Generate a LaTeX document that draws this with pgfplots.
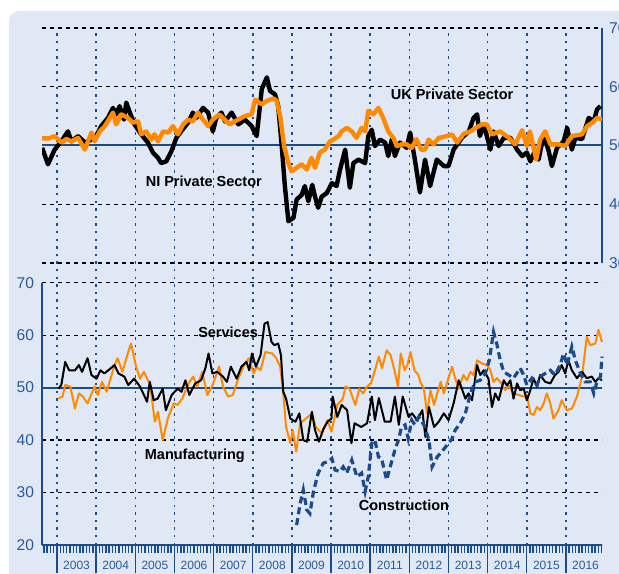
\documentclass[border=0pt]{standalone}
\usepackage{pgfplots}
\pgfplotsset{compat=1.18}
\usepackage{fontspec}
\setmainfont{Liberation Sans}

\definecolor{navy}{HTML}{1A4B8C}
\definecolor{ticktxt}{HTML}{2B5A97}
\definecolor{bg}{HTML}{E0E7F5}
\definecolor{pmiorange}{HTML}{FF8A00}

\pgfplotsset{
  pmi/.style={
    scale only axis, width=280pt,
    xmin=2002.617, xmax=2016.92,
    ymajorgrids,
    grid style={black, line width=0.6pt, dash pattern=on 2pt off 2pt},
    tick label style={font=\fontsize{7.8}{9}\selectfont, text=ticktxt},
    /pgf/number format/assume math mode=true,
    axis line style={navy, line width=1pt},
    ytick style={draw=none},
  },
}
\tikzset{
  yearline/.style={navy, line width=0.8pt, dash pattern=on 1.2pt off 2.6pt},
  lbl/.style={font=\fontsize{7.25}{8}\selectfont\bfseries, inner sep=0pt},
}

\begin{document}
\begin{tikzpicture}
\fill[bg, rounded corners=5pt] (4.5pt,-20pt) rectangle (340pt,281pt);

% ---- lower panel: sectors ----------------------------------------------
\begin{axis}[pmi, at={(21pt,14pt)}, anchor=south west, height=131.15pt,
  ymin=20, ymax=70, ytick={20,30,40,50,60,70},
  axis x line*=bottom, axis y line*=left, clip=false,
  tick align=outside,
  % y labels sit just left of the axis, not pushed out by the long x ticks
  yticklabel style={xshift=13.5pt},
  xtick={2003,2004,...,2016}, xticklabels={},
  major tick length=14pt,
  minor xtick={2002.6667,2002.75,...,2016.92},
  minor tick length=4pt,
  xtick style={navy, line width=0.7pt},
  extra x ticks={2003.5,2004.5,2005.5,2006.5,2007.5,2008.5,2009.5,2010.5,
                 2011.5,2012.5,2013.5,2014.5,2015.5,2016.5},
  extra x tick labels={2003,2004,2005,2006,2007,2008,2009,2010,
                       2011,2012,2013,2014,2015,2016},
  extra x tick style={major tick length=0pt,
    xticklabel style={anchor=center, yshift=-10pt,
                      font=\fontsize{6}{7}\selectfont, text=ticktxt}},
]
\pgfplotsinvokeforeach{2003,2004,...,2016}{
  \draw[yearline] (axis cs:#1,20) -- (axis cs:#1,118);
}
\draw[navy, line width=1pt] (axis cs:2002.617,50) -- (axis cs:2016.92,50);

% manufacturing
\addplot[pmiorange, line width=1pt, line join=round] coordinates {
(2003.04,47.9) (2003.14,48.3) (2003.21,50.5) (2003.34,50.2) (2003.46,46) (2003.56,48.9)
(2003.66,48.3) (2003.78,47) (2003.96,50.2) (2004.04,48.6) (2004.15,51.1) (2004.27,49.2)
(2004.47,54.3) (2004.55,55.6) (2004.67,53) (2004.82,56.8) (2004.89,58.4) (2005.02,54)
(2005.12,51.7) (2005.22,53) (2005.38,50.5) (2005.5,43.5) (2005.58,45.4) (2005.7,40)
(2005.83,44.1) (2005.98,47) (2006.08,46.7) (2006.2,47.9) (2006.36,50.8) (2006.48,52.1)
(2006.58,50.2) (2006.71,53) (2006.84,48.6) (2006.99,50.8) (2007.14,54) (2007.24,50.2)
(2007.37,48.3) (2007.49,48.6) (2007.65,52.1) (2007.8,54.6) (2007.9,55.6) (2008.02,52.7)
(2008.1,54) (2008.2,53.3) (2008.32,56.8) (2008.5,56.5) (2008.6,55.6) (2008.7,54)
(2008.78,48.9) (2008.85,42.5) (2008.96,39.4) (2009.02,41.9) (2009.11,37.8) (2009.21,43.2)
(2009.36,44.1) (2009.51,45.1) (2009.61,42.5) (2009.76,41.3) (2009.91,43.8) (2010.01,41.6)
(2010.16,46.7) (2010.3,47.9) (2010.37,50.2) (2010.47,49.8) (2010.62,46.7) (2010.72,49.8)
(2010.82,48.9) (2010.92,50.2) (2011.02,50.8) (2011.12,53.3) (2011.22,55.9) (2011.3,53.7)
(2011.42,57.1) (2011.52,56.2) (2011.62,53.3) (2011.71,50.2) (2011.78,56.5) (2011.88,53.3)
(2011.95,54.3) (2012.03,56.8) (2012.13,53.3) (2012.23,52.4) (2012.28,51.1) (2012.37,49.8)
(2012.45,45.1) (2012.54,49.5) (2012.63,46.7) (2012.71,48.9) (2012.8,51.1) (2012.88,48.9)
(2012.97,51.1) (2013.09,54) (2013.17,51.8) (2013.26,49.8) (2013.38,52.4) (2013.47,51.4)
(2013.56,53) (2013.64,52.4) (2013.73,55.2) (2013.85,54.6) (2013.98,54.3) (2014.07,53.3)
(2014.15,51.1) (2014.24,51.8) (2014.32,51.1) (2014.45,49.5) (2014.54,50.4) (2014.66,48.9)
(2014.79,48.6) (2014.92,48.3) (2015.0,48.6) (2015.09,45.1) (2015.17,44.8) (2015.26,46.3)
(2015.34,45.7) (2015.43,47) (2015.51,48.9) (2015.6,47) (2015.68,44.1) (2015.81,45.7)
(2015.89,47.6) (2016.02,45.7) (2016.15,46) (2016.28,48.3) (2016.41,52.1) (2016.53,59.7)
(2016.62,58.1) (2016.75,58.4) (2016.83,61) (2016.92,58.7)
};

% services
\addplot[black, line width=1pt, line join=round] coordinates {
(2003.04,49.8) (2003.11,50.5) (2003.21,54.9) (2003.31,53.3) (2003.46,53.3) (2003.56,54.3)
(2003.64,53) (2003.78,55.6) (2003.88,52.4) (2004.01,51.7) (2004.11,53.3) (2004.21,52.7)
(2004.31,53.3) (2004.47,54.3) (2004.57,52.7) (2004.72,52.1) (2004.82,50.5) (2004.97,51.7)
(2005.12,50.2) (2005.22,48.6) (2005.3,47.3) (2005.37,51.1) (2005.47,47.6) (2005.57,47.9)
(2005.7,49.8) (2005.78,45.7) (2005.93,48.6) (2006.08,49.8) (2006.18,49.2) (2006.28,51.4)
(2006.38,48.6) (2006.53,50.8) (2006.68,51.4) (2006.79,53.7) (2006.87,56.5) (2006.97,52.7)
(2007.09,53) (2007.24,52.1) (2007.34,51.1) (2007.44,54) (2007.59,51.7) (2007.71,54)
(2007.84,54.9) (2007.91,53.3) (2007.98,56.5) (2008.08,54) (2008.2,56.2) (2008.3,62.2)
(2008.38,62.5) (2008.48,58.7) (2008.55,58.1) (2008.65,58.4) (2008.72,56.2) (2008.78,49.2)
(2008.85,47.9) (2008.96,44.1) (2009.09,43.5) (2009.19,45.1) (2009.29,40) (2009.39,39.7)
(2009.51,45.4) (2009.59,41.9) (2009.69,39.7) (2009.81,42.2) (2009.91,43.5) (2010.01,44.1)
(2010.04,48.3) (2010.16,44.4) (2010.27,46.7) (2010.41,45.7) (2010.52,39.4) (2010.6,43.2)
(2010.77,42.5) (2010.92,43.2) (2011.04,48.3) (2011.12,43.8) (2011.22,48) (2011.37,43.5)
(2011.52,43.5) (2011.63,48.3) (2011.73,42.9) (2011.83,48.3) (2011.98,44.4) (2012.07,45.1)
(2012.2,43.8) (2012.33,45.7) (2012.41,40.6) (2012.5,46.3) (2012.63,42.5) (2012.75,43.5)
(2012.88,45.1) (2013.0,43.8) (2013.13,47) (2013.26,51.4) (2013.34,49.8) (2013.43,47.9)
(2013.51,48.9) (2013.6,47.6) (2013.73,54.3) (2013.81,52.4) (2013.9,53.3) (2014.02,51.7)
(2014.11,46.3) (2014.19,48.9) (2014.28,47.6) (2014.41,51.4) (2014.49,50.4) (2014.58,51.4)
(2014.66,47.9) (2014.75,50.8) (2014.83,49.5) (2014.92,49.8) (2015.0,47.6) (2015.09,49.5)
(2015.17,51.8) (2015.26,50.1) (2015.34,52.4) (2015.47,51.1) (2015.6,50.8) (2015.72,52.4)
(2015.81,53) (2015.89,54.3) (2015.98,52.7) (2016.06,55.2) (2016.15,53.3) (2016.28,51.8)
(2016.41,53) (2016.53,51.8) (2016.66,52.1) (2016.75,51.1) (2016.83,51.8) (2016.92,51.4)
};

% construction
\addplot[navy, line width=1.6pt, dash pattern=on 3.5pt off 2pt] coordinates {
(2009.12,23.8) (2009.21,27.9) (2009.29,30.5) (2009.38,26.7) (2009.46,26) (2009.55,30.2)
(2009.67,33.7) (2009.8,35.6) (2009.93,35.9) (2010.02,36.5) (2010.1,34.3) (2010.23,34)
(2010.31,34.9) (2010.4,33.7) (2010.53,36.2) (2010.66,33) (2010.78,33.7) (2010.87,30.2)
(2010.95,33) (2011.04,39.4) (2011.12,40) (2011.21,36.8) (2011.29,36.5) (2011.42,32.4)
(2011.51,34.9) (2011.63,38.1) (2011.72,40) (2011.8,42.5) (2011.89,42.9) (2011.97,40.3)
(2012.06,43.8) (2012.14,42.9) (2012.24,44.4) (2012.37,42.9) (2012.5,40) (2012.58,34.9)
(2012.71,36.8) (2012.83,37.8) (2013.0,39.4) (2013.09,40.3) (2013.17,41.9) (2013.3,43.2)
(2013.43,45.1) (2013.56,48.9) (2013.68,51.1) (2013.81,51.4) (2013.94,52.7) (2014.04,55.2)
(2014.15,60.6) (2014.24,58.1) (2014.32,55.2) (2014.41,53) (2014.54,52.4) (2014.66,51.8)
(2014.83,53.7) (2014.92,52.4) (2015.0,50.5) (2015.13,51.8) (2015.26,50.5) (2015.34,52.1)
(2015.47,52.7) (2015.6,53.3) (2015.72,52.4) (2015.85,54.3) (2015.94,56.5) (2016.03,54.3)
(2016.15,57.8) (2016.24,55.2) (2016.37,52.7) (2016.49,51.1) (2016.62,51.1) (2016.71,48.9)
(2016.79,51.1) (2016.88,52.1) (2016.92,55.9)
};

\node[lbl] at (axis cs:2007.37,60.6) {Services};
\node[lbl] at (axis cs:2006.52,36.95) {Manufacturing};
\node[lbl] at (axis cs:2011.86,27.6) {Construction};
\end{axis}

% ---- upper panel: private sector ---------------------------------------
\begin{axis}[pmi, at={(21pt,155pt)}, anchor=south west, height=117.5pt,
  ymin=30, ymax=70, ytick={30,40,50,60,70},
  axis y line*=right, axis x line=none, xtick=\empty,
]
\draw[navy, line width=1pt] (axis cs:2002.617,50) -- (axis cs:2016.92,50);

% NI private sector
\addplot[black, line width=2.2pt, line join=round] coordinates {
(2002.62,49.6) (2002.77,46.8) (2002.94,49.3) (2003.11,50.7) (2003.28,52.4) (2003.37,50.7)
(2003.54,51.6) (2003.71,50.5) (2003.88,51) (2004.0,51.6) (2004.13,53.3) (2004.3,54.7)
(2004.43,56.4) (2004.51,55.3) (2004.6,56.7) (2004.71,54.4) (2004.77,57.3) (2004.86,55.6)
(2004.98,53.6) (2005.15,51.9) (2005.32,50.5) (2005.45,48.8) (2005.58,47.9) (2005.66,47)
(2005.79,47.3) (2005.92,49) (2006.05,51.3) (2006.17,52.4) (2006.35,53.9) (2006.47,55.6)
(2006.56,54.7) (2006.73,56.4) (2006.86,55.6) (2006.98,52.4) (2007.07,54.7) (2007.2,55.6)
(2007.29,54.1) (2007.46,55.6) (2007.63,53.6) (2007.8,54.4) (2007.97,53.3) (2008.1,51.6)
(2008.23,59.6) (2008.36,61.6) (2008.44,59.3) (2008.57,58.7) (2008.65,56.7) (2008.74,49.9)
(2008.82,43.1) (2008.91,37.1) (2009.04,37.7) (2009.12,40.8) (2009.25,41.6) (2009.33,43.1)
(2009.42,40.5) (2009.52,43.3) (2009.59,41.3) (2009.67,39.4) (2009.76,41.3) (2009.89,41.9)
(2010.02,43.6) (2010.14,43.1) (2010.23,45.9) (2010.36,49.3) (2010.48,42.8) (2010.57,47)
(2010.7,47.6) (2010.87,47) (2010.95,51.6) (2011.04,52.7) (2011.12,49.9) (2011.25,51)
(2011.38,50.5) (2011.46,48.2) (2011.55,51) (2011.63,48.2) (2011.76,50.5) (2011.93,49.6)
(2012.02,52.2) (2012.14,47.6) (2012.27,42) (2012.4,47.6) (2012.53,43.1) (2012.7,47.6)
(2012.88,46.5) (2013.0,46.5) (2013.13,49.3) (2013.34,51.3) (2013.52,52.4) (2013.64,54.7)
(2013.73,55.3) (2013.8,51.6) (2013.9,53.6) (2014.07,49.3) (2014.15,52.4) (2014.28,49.9)
(2014.41,51.3) (2014.58,51.3) (2014.75,49.3) (2014.88,48.2) (2015.0,48.8) (2015.09,47.3)
(2015.22,49.3) (2015.3,47.6) (2015.43,51.9) (2015.56,49) (2015.64,46.5) (2015.77,49.6)
(2015.94,50.7) (2016.03,53) (2016.15,49.3) (2016.24,51.3) (2016.41,51.1) (2016.58,54.7)
(2016.71,54.1) (2016.79,56.1) (2016.88,56.7)
};

% UK private sector
\addplot[pmiorange, line width=2.2pt, line join=round] coordinates {
(2002.62,51.2) (2002.79,51.2) (2002.94,51.6) (2003.11,50.5) (2003.24,51.1) (2003.37,50.7)
(2003.54,51.3) (2003.71,49.3) (2003.88,52.2) (2003.96,50.7) (2004.09,52.4) (2004.22,53.3)
(2004.35,54.7) (2004.43,55.6) (2004.51,53.6) (2004.64,55.3) (2004.81,54.7) (2004.94,53.9)
(2005.07,54.1) (2005.15,51.9) (2005.28,52.4) (2005.41,51) (2005.49,51.9) (2005.58,50.7)
(2005.71,52.4) (2005.84,52.2) (2005.96,53.3) (2006.09,51.9) (2006.22,53.6) (2006.35,54.4)
(2006.47,54.1) (2006.6,55.6) (2006.73,54.4) (2006.86,53.3) (2006.98,54.4) (2007.15,55.3)
(2007.28,54.4) (2007.41,53.6) (2007.54,54.1) (2007.8,55) (2007.97,55.3) (2008.06,57.8)
(2008.23,57) (2008.36,57.6) (2008.53,58) (2008.61,57.6) (2008.7,55) (2008.8,49.9)
(2008.91,47) (2008.99,45.6) (2009.12,46.2) (2009.25,46.8) (2009.38,45.9) (2009.5,47.9)
(2009.59,46.2) (2009.71,48.8) (2009.84,49.3) (2009.97,50.7) (2010.06,51) (2010.19,51.6)
(2010.27,52.4) (2010.4,53) (2010.53,52.4) (2010.65,51.3) (2010.78,53) (2010.87,52.4)
(2010.95,55.9) (2011.08,55.3) (2011.21,56.4) (2011.33,54.7) (2011.46,52.4) (2011.59,51.3)
(2011.68,49.9) (2011.8,50.2) (2011.93,50.2) (2012.06,49.6) (2012.18,51.1) (2012.3,49.3)
(2012.4,49.3) (2012.49,51) (2012.62,50.2) (2012.75,51.3) (2012.96,51.6) (2013.09,51.9)
(2013.22,50.5) (2013.39,52) (2013.56,52.4) (2013.69,53) (2013.86,53.6) (2013.98,53.6)
(2014.11,51.9) (2014.32,52.4) (2014.54,51.3) (2014.7,50.2) (2014.88,52.6) (2015.0,49.9)
(2015.08,52.4) (2015.24,47.6) (2015.34,51) (2015.47,52.4) (2015.6,50.2) (2015.81,50.2)
(2015.98,49.9) (2016.15,51.6) (2016.41,51.9) (2016.54,53.3) (2016.67,53.9) (2016.8,54.7)
(2016.92,54.4)
};

\node[lbl] at (axis cs:2013.09,58.7) {UK Private Sector};
\node[lbl] at (axis cs:2006.75,43.86) {NI Private Sector};
\end{axis}

\pgfresetboundingbox
\useasboundingbox (0,0) rectangle (309.5pt,286.5pt);
\end{tikzpicture}
\end{document}
